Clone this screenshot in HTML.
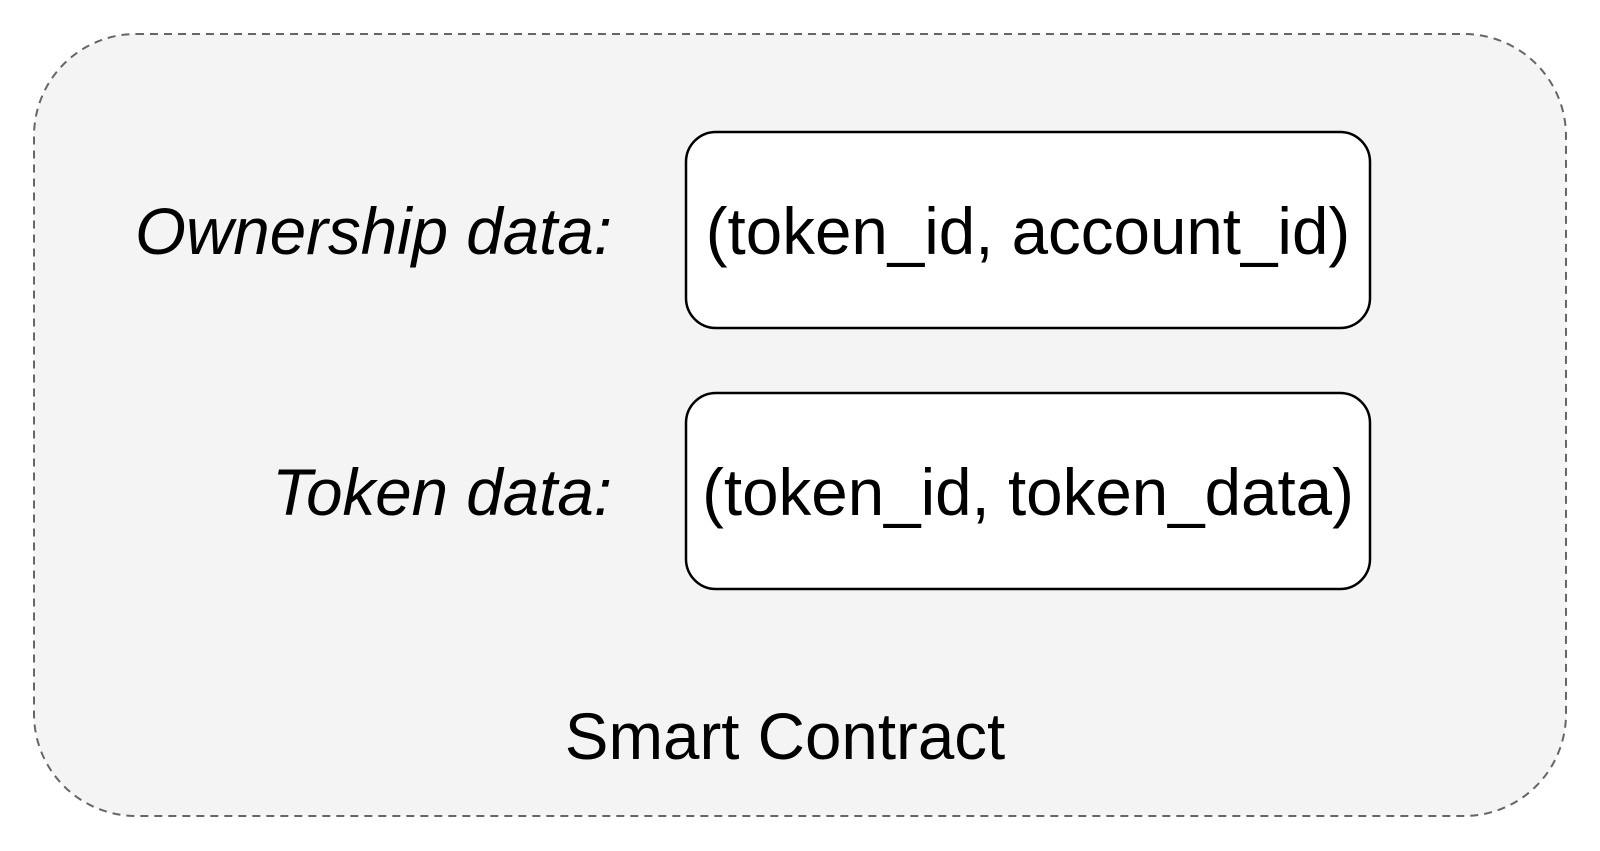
<!DOCTYPE html>
<html><head><meta charset="utf-8"><style>html,body{margin:0;padding:0;background:#fff}svg{display:block}</style></head>
<body>
<svg width="1600" height="851" viewBox="0 0 1600 851" xmlns="http://www.w3.org/2000/svg" font-family="'Liberation Sans', Arial, sans-serif">
<rect x="34" y="34" width="1532" height="782" rx="102" ry="102" fill="#f4f4f4" stroke="#666" stroke-width="2" stroke-dasharray="8,6"/>
<rect x="686" y="132" width="684" height="196" rx="30" ry="30" fill="#fff" stroke="#000" stroke-width="2.5"/>
<rect x="686" y="393" width="684" height="196" rx="30" ry="30" fill="#fff" stroke="#000" stroke-width="2.5"/>
<text x="1028" y="254" font-size="65.5" text-anchor="middle" fill="#000">(token_id, account_id)</text>
<text x="1028" y="515" font-size="65.5" text-anchor="middle" fill="#000">(token_id, token_data)</text>
<text x="612" y="254" font-size="65.5" font-style="italic" text-anchor="end" fill="#000">Ownership data:</text>
<text x="612" y="515" font-size="65.5" font-style="italic" text-anchor="end" fill="#000">Token data:</text>
<text x="785" y="759" font-size="65.5" text-anchor="middle" fill="#000">Smart Contract</text>
</svg>
</body></html>
